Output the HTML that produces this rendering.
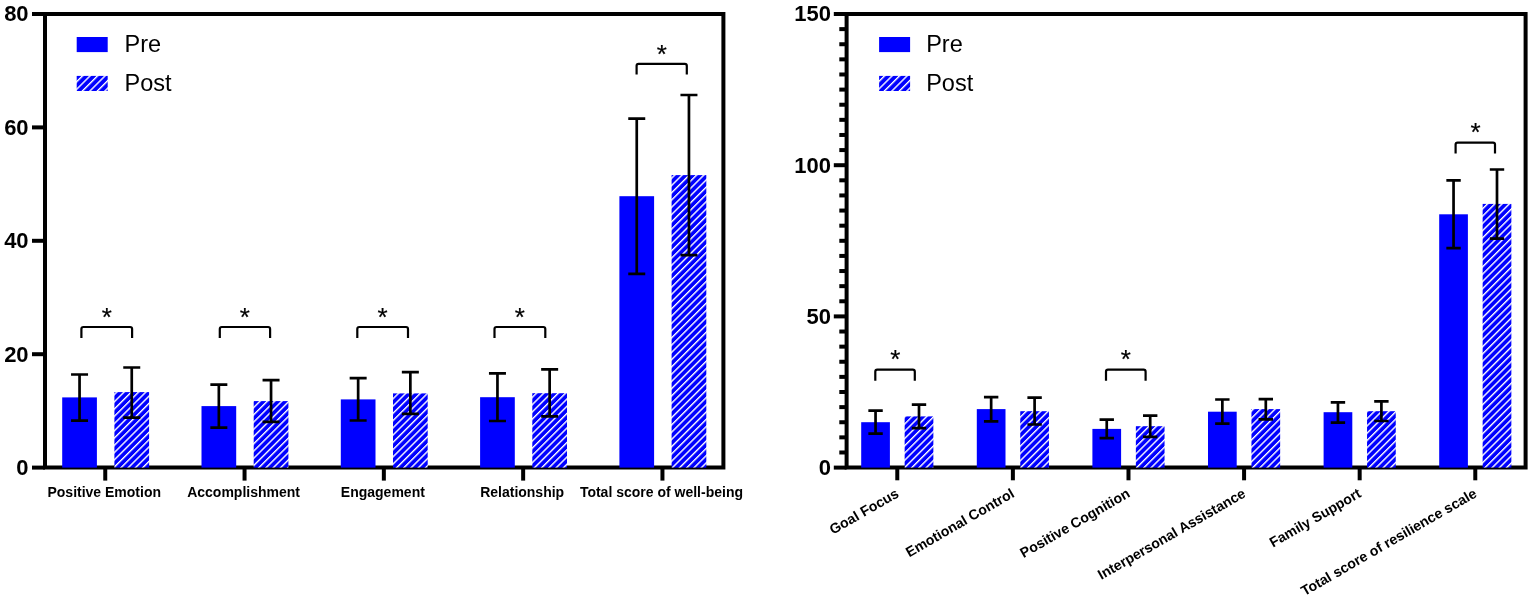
<!DOCTYPE html>
<html><head><meta charset="utf-8"><title>Chart</title>
<style>
html,body{margin:0;padding:0;background:#fff;}
body{width:1535px;height:602px;overflow:hidden;}
svg{display:block;}
text{font-family:'Liberation Sans', Arial, sans-serif;fill:#000;}
.yl{font-size:22px;font-weight:bold;}
.xl{font-size:14px;font-weight:bold;}
.xr{font-size:14.15px;font-weight:bold;}
.lg{font-size:23.5px;}
.ast{font-size:26px;stroke:#000;stroke-width:0.2px;}
</style></head><body>
<svg width="1535" height="602" viewBox="0 0 1535 602">
<defs>
<pattern id="hatch" patternUnits="userSpaceOnUse" width="5.13" height="5.13" patternTransform="rotate(45)">
<rect x="0" y="0" width="5.13" height="5.13" fill="#0000ff"/><rect x="0" y="0" width="1.4" height="5.13" fill="#fff"/>
</pattern>
<pattern id="hatchL" patternUnits="userSpaceOnUse" width="5.3" height="5.3" patternTransform="rotate(45)">
<rect x="0" y="0" width="5.3" height="5.3" fill="#0000ff"/><rect x="0" y="0" width="1.4" height="5.3" fill="#fff"/>
</pattern>
</defs>
<rect width="1535" height="602" fill="#fff"/>
<path d="M45 14H723.4V467.6H45Z" fill="none" stroke="#000" stroke-width="4" stroke-linejoin="miter"/>
<line x1="32" y1="467.60" x2="45" y2="467.60" stroke="#000" stroke-width="4"/>
<text x="0" y="0" text-anchor="end" class="yl" transform="translate(28.6 475.00) scale(1 1.04)">0</text>
<line x1="32" y1="354.20" x2="45" y2="354.20" stroke="#000" stroke-width="4"/>
<text x="0" y="0" text-anchor="end" class="yl" transform="translate(28.6 361.60) scale(1 1.04)">20</text>
<line x1="32" y1="240.80" x2="45" y2="240.80" stroke="#000" stroke-width="4"/>
<text x="0" y="0" text-anchor="end" class="yl" transform="translate(28.6 248.20) scale(1 1.04)">40</text>
<line x1="32" y1="127.40" x2="45" y2="127.40" stroke="#000" stroke-width="4"/>
<text x="0" y="0" text-anchor="end" class="yl" transform="translate(28.6 134.80) scale(1 1.04)">60</text>
<line x1="32" y1="14.00" x2="45" y2="14.00" stroke="#000" stroke-width="4"/>
<text x="0" y="0" text-anchor="end" class="yl" transform="translate(28.6 21.40) scale(1 1.04)">80</text>
<rect x="62.20" y="397.4" width="34.7" height="70.20" fill="#0000ff"/>
<rect x="114.40" y="392.1" width="34.7" height="75.50" fill="url(#hatch)"/>
<path d="M79.55 374.5V420.6M71.05 374.5H88.05M71.05 420.6H88.05" stroke="#000" stroke-width="2.7" fill="none"/>
<path d="M131.75 367.5V417.6M123.25 367.5H140.25M123.25 417.6H140.25" stroke="#000" stroke-width="2.7" fill="none"/>
<line x1="105.25" y1="467" x2="105.25" y2="480.6" stroke="#000" stroke-width="4"/>
<text x="104.25" y="496.5" text-anchor="middle" class="xl">Positive Emotion</text>
<rect x="201.50" y="406.1" width="34.7" height="61.50" fill="#0000ff"/>
<rect x="253.70" y="401.1" width="34.7" height="66.50" fill="url(#hatch)"/>
<path d="M218.85 384.6V427.6M210.35 384.6H227.35M210.35 427.6H227.35" stroke="#000" stroke-width="2.7" fill="none"/>
<path d="M271.05 380.2V421.9M262.55 380.2H279.55M262.55 421.9H279.55" stroke="#000" stroke-width="2.7" fill="none"/>
<line x1="244.55" y1="467" x2="244.55" y2="480.6" stroke="#000" stroke-width="4"/>
<text x="243.55" y="496.5" text-anchor="middle" class="xl">Accomplishment</text>
<rect x="340.80" y="399.4" width="34.7" height="68.20" fill="#0000ff"/>
<rect x="393.00" y="393.4" width="34.7" height="74.20" fill="url(#hatch)"/>
<path d="M358.15 378.2V420.5M349.65 378.2H366.65M349.65 420.5H366.65" stroke="#000" stroke-width="2.7" fill="none"/>
<path d="M410.35 372.1V413.8M401.85 372.1H418.85M401.85 413.8H418.85" stroke="#000" stroke-width="2.7" fill="none"/>
<line x1="383.85" y1="467" x2="383.85" y2="480.6" stroke="#000" stroke-width="4"/>
<text x="382.85" y="496.5" text-anchor="middle" class="xl">Engagement</text>
<rect x="480.10" y="397.2" width="34.7" height="70.40" fill="#0000ff"/>
<rect x="532.30" y="393.2" width="34.7" height="74.40" fill="url(#hatch)"/>
<path d="M497.45 373.4V421.0M488.95 373.4H505.95M488.95 421.0H505.95" stroke="#000" stroke-width="2.7" fill="none"/>
<path d="M549.65 369.4V416.3M541.15 369.4H558.15M541.15 416.3H558.15" stroke="#000" stroke-width="2.7" fill="none"/>
<line x1="523.15" y1="467" x2="523.15" y2="480.6" stroke="#000" stroke-width="4"/>
<text x="522.15" y="496.5" text-anchor="middle" class="xl">Relationship</text>
<rect x="619.40" y="196.2" width="34.7" height="271.40" fill="#0000ff"/>
<rect x="671.60" y="175.1" width="34.7" height="292.50" fill="url(#hatch)"/>
<path d="M636.75 118.7V273.8M628.25 118.7H645.25M628.25 273.8H645.25" stroke="#000" stroke-width="2.7" fill="none"/>
<path d="M688.95 95.0V255.2M680.45 95.0H697.45M680.45 255.2H697.45" stroke="#000" stroke-width="2.7" fill="none"/>
<line x1="662.45" y1="467" x2="662.45" y2="480.6" stroke="#000" stroke-width="4"/>
<text x="661.45" y="496.5" text-anchor="middle" class="xl">Total score of well-being</text>
<path d="M81.4 338V329Q81.4 327 83.4 327H130.1Q132.1 327 132.1 329V338" fill="none" stroke="#000" stroke-width="2.2"/>
<text x="106.7" y="325.7" text-anchor="middle" class="ast">*</text>
<path d="M219.8 338V329Q219.8 327 221.8 327H268.1Q270.1 327 270.1 329V338" fill="none" stroke="#000" stroke-width="2.2"/>
<text x="244.8" y="325.7" text-anchor="middle" class="ast">*</text>
<path d="M357.3 338V329Q357.3 327 359.3 327H406Q408 327 408 329V338" fill="none" stroke="#000" stroke-width="2.2"/>
<text x="382.5" y="325.7" text-anchor="middle" class="ast">*</text>
<path d="M494.5 338V329Q494.5 327 496.5 327H543.3Q545.3 327 545.3 329V338" fill="none" stroke="#000" stroke-width="2.2"/>
<text x="519.7" y="325.7" text-anchor="middle" class="ast">*</text>
<path d="M636.6 74.5V65.8Q636.6 63.8 638.6 63.8H684.8Q686.8 63.8 686.8 65.8V74.5" fill="none" stroke="#000" stroke-width="2.2"/>
<text x="661.7" y="62.6" text-anchor="middle" class="ast">*</text>
<rect x="76.7" y="37" width="31" height="15.1" fill="#0000ff"/>
<rect x="76.7" y="75.9" width="31" height="15.1" fill="url(#hatchL)"/>
<text x="124.5" y="51.9" class="lg">Pre</text>
<text x="124.5" y="91" class="lg">Post</text>
<path d="M846.6 14H1525.6V467.6H846.6Z" fill="none" stroke="#000" stroke-width="4"/>
<line x1="833.8" y1="467.60" x2="846.6" y2="467.60" stroke="#000" stroke-width="4"/>
<text x="0" y="0" text-anchor="end" class="yl" transform="translate(831 475.00) scale(1 1.04)">0</text>
<line x1="839.3" y1="452.48" x2="846.6" y2="452.48" stroke="#000" stroke-width="4"/>
<line x1="839.3" y1="437.36" x2="846.6" y2="437.36" stroke="#000" stroke-width="4"/>
<line x1="839.3" y1="422.24" x2="846.6" y2="422.24" stroke="#000" stroke-width="4"/>
<line x1="839.3" y1="407.12" x2="846.6" y2="407.12" stroke="#000" stroke-width="4"/>
<line x1="839.3" y1="392.00" x2="846.6" y2="392.00" stroke="#000" stroke-width="4"/>
<line x1="839.3" y1="376.88" x2="846.6" y2="376.88" stroke="#000" stroke-width="4"/>
<line x1="839.3" y1="361.76" x2="846.6" y2="361.76" stroke="#000" stroke-width="4"/>
<line x1="839.3" y1="346.64" x2="846.6" y2="346.64" stroke="#000" stroke-width="4"/>
<line x1="839.3" y1="331.52" x2="846.6" y2="331.52" stroke="#000" stroke-width="4"/>
<line x1="833.8" y1="316.40" x2="846.6" y2="316.40" stroke="#000" stroke-width="4"/>
<text x="0" y="0" text-anchor="end" class="yl" transform="translate(831 323.80) scale(1 1.04)">50</text>
<line x1="839.3" y1="301.28" x2="846.6" y2="301.28" stroke="#000" stroke-width="4"/>
<line x1="839.3" y1="286.16" x2="846.6" y2="286.16" stroke="#000" stroke-width="4"/>
<line x1="839.3" y1="271.04" x2="846.6" y2="271.04" stroke="#000" stroke-width="4"/>
<line x1="839.3" y1="255.92" x2="846.6" y2="255.92" stroke="#000" stroke-width="4"/>
<line x1="839.3" y1="240.80" x2="846.6" y2="240.80" stroke="#000" stroke-width="4"/>
<line x1="839.3" y1="225.68" x2="846.6" y2="225.68" stroke="#000" stroke-width="4"/>
<line x1="839.3" y1="210.56" x2="846.6" y2="210.56" stroke="#000" stroke-width="4"/>
<line x1="839.3" y1="195.44" x2="846.6" y2="195.44" stroke="#000" stroke-width="4"/>
<line x1="839.3" y1="180.32" x2="846.6" y2="180.32" stroke="#000" stroke-width="4"/>
<line x1="833.8" y1="165.20" x2="846.6" y2="165.20" stroke="#000" stroke-width="4"/>
<text x="0" y="0" text-anchor="end" class="yl" transform="translate(831 172.60) scale(1 1.04)">100</text>
<line x1="839.3" y1="150.08" x2="846.6" y2="150.08" stroke="#000" stroke-width="4"/>
<line x1="839.3" y1="134.96" x2="846.6" y2="134.96" stroke="#000" stroke-width="4"/>
<line x1="839.3" y1="119.84" x2="846.6" y2="119.84" stroke="#000" stroke-width="4"/>
<line x1="839.3" y1="104.72" x2="846.6" y2="104.72" stroke="#000" stroke-width="4"/>
<line x1="839.3" y1="89.60" x2="846.6" y2="89.60" stroke="#000" stroke-width="4"/>
<line x1="839.3" y1="74.48" x2="846.6" y2="74.48" stroke="#000" stroke-width="4"/>
<line x1="839.3" y1="59.36" x2="846.6" y2="59.36" stroke="#000" stroke-width="4"/>
<line x1="839.3" y1="44.24" x2="846.6" y2="44.24" stroke="#000" stroke-width="4"/>
<line x1="839.3" y1="29.12" x2="846.6" y2="29.12" stroke="#000" stroke-width="4"/>
<line x1="833.8" y1="14.00" x2="846.6" y2="14.00" stroke="#000" stroke-width="4"/>
<text x="0" y="0" text-anchor="end" class="yl" transform="translate(831 21.40) scale(1 1.04)">150</text>
<rect x="861.20" y="422.2" width="28.7" height="45.40" fill="#0000ff"/>
<rect x="904.65" y="416.4" width="28.7" height="51.20" fill="url(#hatch)"/>
<path d="M875.55 410.6V433.7M868.35 410.6H882.75M868.35 433.7H882.75" stroke="#000" stroke-width="2.7" fill="none"/>
<path d="M919.00 404.7V428.1M911.80 404.7H926.20M911.80 428.1H926.20" stroke="#000" stroke-width="2.7" fill="none"/>
<line x1="897.28" y1="467" x2="897.28" y2="480.3" stroke="#000" stroke-width="4"/>
<text x="0" y="0" text-anchor="end" class="xr" transform="translate(899.78 496.20) rotate(-30)">Goal Focus</text>
<rect x="976.80" y="409.1" width="28.7" height="58.50" fill="#0000ff"/>
<rect x="1020.25" y="411.2" width="28.7" height="56.40" fill="url(#hatch)"/>
<path d="M991.15 397.2V421.3M983.95 397.2H998.35M983.95 421.3H998.35" stroke="#000" stroke-width="2.7" fill="none"/>
<path d="M1034.60 397.6V424.5M1027.40 397.6H1041.80M1027.40 424.5H1041.80" stroke="#000" stroke-width="2.7" fill="none"/>
<line x1="1012.88" y1="467" x2="1012.88" y2="480.3" stroke="#000" stroke-width="4"/>
<text x="0" y="0" text-anchor="end" class="xr" transform="translate(1015.38 496.20) rotate(-30)">Emotional Control</text>
<rect x="1092.40" y="428.9" width="28.7" height="38.70" fill="#0000ff"/>
<rect x="1135.85" y="426.2" width="28.7" height="41.40" fill="url(#hatch)"/>
<path d="M1106.75 419.6V438.1M1099.55 419.6H1113.95M1099.55 438.1H1113.95" stroke="#000" stroke-width="2.7" fill="none"/>
<path d="M1150.20 415.6V436.9M1143.00 415.6H1157.40M1143.00 436.9H1157.40" stroke="#000" stroke-width="2.7" fill="none"/>
<line x1="1128.48" y1="467" x2="1128.48" y2="480.3" stroke="#000" stroke-width="4"/>
<text x="0" y="0" text-anchor="end" class="xr" transform="translate(1130.98 496.20) rotate(-30)">Positive Cognition</text>
<rect x="1208.00" y="411.7" width="28.7" height="55.90" fill="#0000ff"/>
<rect x="1251.45" y="409.1" width="28.7" height="58.50" fill="url(#hatch)"/>
<path d="M1222.35 399.5V423.7M1215.15 399.5H1229.55M1215.15 423.7H1229.55" stroke="#000" stroke-width="2.7" fill="none"/>
<path d="M1265.80 399.1V419.4M1258.60 399.1H1273.00M1258.60 419.4H1273.00" stroke="#000" stroke-width="2.7" fill="none"/>
<line x1="1244.08" y1="467" x2="1244.08" y2="480.3" stroke="#000" stroke-width="4"/>
<text x="0" y="0" text-anchor="end" class="xr" transform="translate(1246.58 496.20) rotate(-30)">Interpersonal Assistance</text>
<rect x="1323.60" y="412.2" width="28.7" height="55.40" fill="#0000ff"/>
<rect x="1367.05" y="411.2" width="28.7" height="56.40" fill="url(#hatch)"/>
<path d="M1337.95 402.3V422.7M1330.75 402.3H1345.15M1330.75 422.7H1345.15" stroke="#000" stroke-width="2.7" fill="none"/>
<path d="M1381.40 401.4V421.0M1374.20 401.4H1388.60M1374.20 421.0H1388.60" stroke="#000" stroke-width="2.7" fill="none"/>
<line x1="1359.67" y1="467" x2="1359.67" y2="480.3" stroke="#000" stroke-width="4"/>
<text x="0" y="0" text-anchor="end" class="xr" transform="translate(1362.17 496.20) rotate(-30)">Family Support</text>
<rect x="1439.20" y="214.3" width="28.7" height="253.30" fill="#0000ff"/>
<rect x="1482.65" y="203.9" width="28.7" height="263.70" fill="url(#hatch)"/>
<path d="M1453.55 180.3V248.1M1446.35 180.3H1460.75M1446.35 248.1H1460.75" stroke="#000" stroke-width="2.7" fill="none"/>
<path d="M1497.00 169.5V238.6M1489.80 169.5H1504.20M1489.80 238.6H1504.20" stroke="#000" stroke-width="2.7" fill="none"/>
<line x1="1475.28" y1="467" x2="1475.28" y2="480.3" stroke="#000" stroke-width="4"/>
<text x="0" y="0" text-anchor="end" class="xr" transform="translate(1477.78 496.20) rotate(-30)">Total score of resilience scale</text>
<path d="M875.3 380.7V371.7Q875.3 369.7 877.3 369.7H912.8Q914.8 369.7 914.8 371.7V380.7" fill="none" stroke="#000" stroke-width="2.2"/>
<text x="895.3" y="367.6" text-anchor="middle" class="ast">*</text>
<path d="M1106 380.7V371.7Q1106 369.7 1108 369.7H1143.6Q1145.6 369.7 1145.6 371.7V380.7" fill="none" stroke="#000" stroke-width="2.2"/>
<text x="1125.9" y="367.6" text-anchor="middle" class="ast">*</text>
<path d="M1455.6 153.6V144.6Q1455.6 142.6 1457.6 142.6H1493Q1495 142.6 1495 144.6V153.6" fill="none" stroke="#000" stroke-width="2.2"/>
<text x="1475.5" y="140.6" text-anchor="middle" class="ast">*</text>
<rect x="879.1" y="37" width="31" height="15.1" fill="#0000ff"/>
<rect x="879.1" y="75.9" width="31" height="15.1" fill="url(#hatchL)"/>
<text x="926.2" y="51.9" class="lg">Pre</text>
<text x="926.2" y="91" class="lg">Post</text>
</svg>
</body></html>
